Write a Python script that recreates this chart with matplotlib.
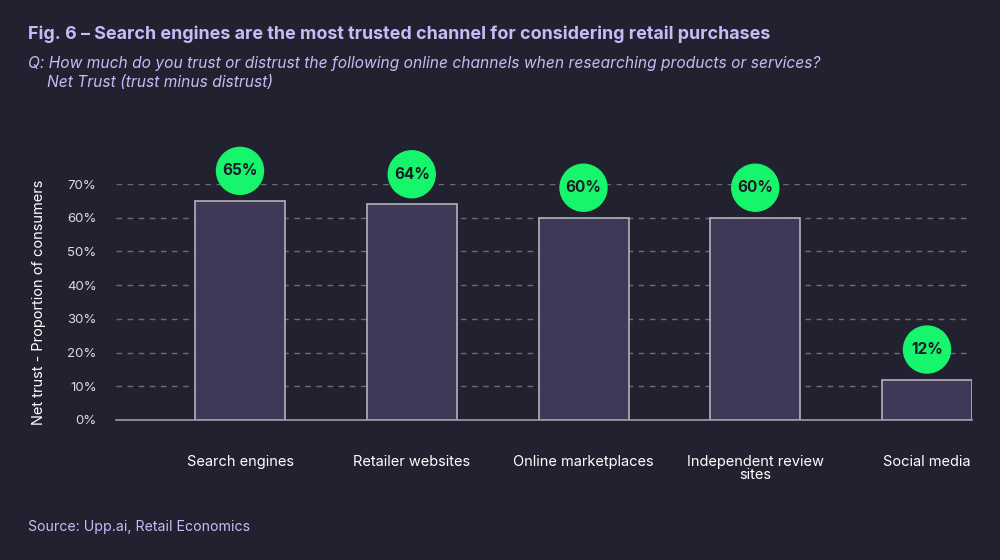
import matplotlib.pyplot as plt
from matplotlib.patches import Ellipse

# 数据
channels = ['Search engines', 'Retailer websites', 'Online marketplaces',
            'Independent review\nsites', 'Social media']
net_trust = [65, 64, 60, 60, 12]
y_ticks = [0, 10, 20, 30, 40, 50, 60, 70]

bg = '#22212f'
lav = '#c9baf7'
txt = '#dcdce4'
green = '#16f56b'

plt.rcParams['font.family'] = ['Inter', 'DejaVu Sans']

fig = plt.figure(figsize=(10, 5.6), dpi=100, facecolor=bg)
ax = fig.add_axes([0.116, 0.25, 0.856, 0.4214], facecolor=bg)

x = list(range(len(channels)))
ax.bar(x, net_trust, width=0.524, color='#3f3856', edgecolor='#b4b2bd',
       linewidth=1.2, zorder=3)

ax.set_xlim(-0.722, 4.262)
ax.set_ylim(0, 70)
ax.set_yticks(y_ticks)
ax.set_yticklabels([f'{v}%' for v in y_ticks])
ax.set_xticks(x)
ax.set_xticklabels(channels, fontsize=10.5, color='white', linespacing=0.95)
ax.tick_params(axis='y', length=0, pad=14, labelsize=9.5, labelcolor=txt)
ax.tick_params(axis='x', length=0, pad=25)
ax.yaxis.grid(True, linestyle=(0, (4, 4)), color='#6c6b78', linewidth=1, zorder=0)
for s in ['top', 'right', 'left']:
    ax.spines[s].set_visible(False)
ax.spines['bottom'].set_color('#9c9ba6')
ax.spines['bottom'].set_linewidth(1.2)
ax.spines['bottom'].set_zorder(4)

ax.set_ylabel('Net trust - Proportion of consumers', fontsize=10.5, color='white',
              labelpad=15)

# 绿色圆形数值标签
trans = ax.transData
for xi, v in zip(x, net_trust):
    px, py = trans.transform((xi, v))
    cy = py + 30
    cx_d, cy_d = fig.transFigure.inverted().transform((px, cy))
    w = 47 / 1000
    h = 47 / 560
    fig.patches.append(Ellipse((cx_d, cy_d), w, h, transform=fig.transFigure,
                               color=green, zorder=5))
    fig.text(cx_d, cy_d, f'{v}%', ha='center', va='center', fontsize=11,
             fontweight='bold', color='#1d1c2a', zorder=6)

fig.text(0.028, 0.939, 'Fig. 6 \u2013 Search engines are the most trusted channel for considering retail purchases',
         fontsize=12.9, fontweight='bold', color=lav, va='center')
fig.text(0.028, 0.886, 'Q: How much do you trust or distrust the following online channels when researching products or services?',
         fontsize=11.2, style='italic', color=lav, va='center')
fig.text(0.047, 0.852, 'Net Trust (trust minus distrust)',
         fontsize=11.2, style='italic', color=lav, va='center')
fig.text(0.028, 0.059, 'Source: Upp.ai, Retail Economics', fontsize=10.2,
         color=lav, va='center')

fig.savefig('out.png', facecolor=bg)
